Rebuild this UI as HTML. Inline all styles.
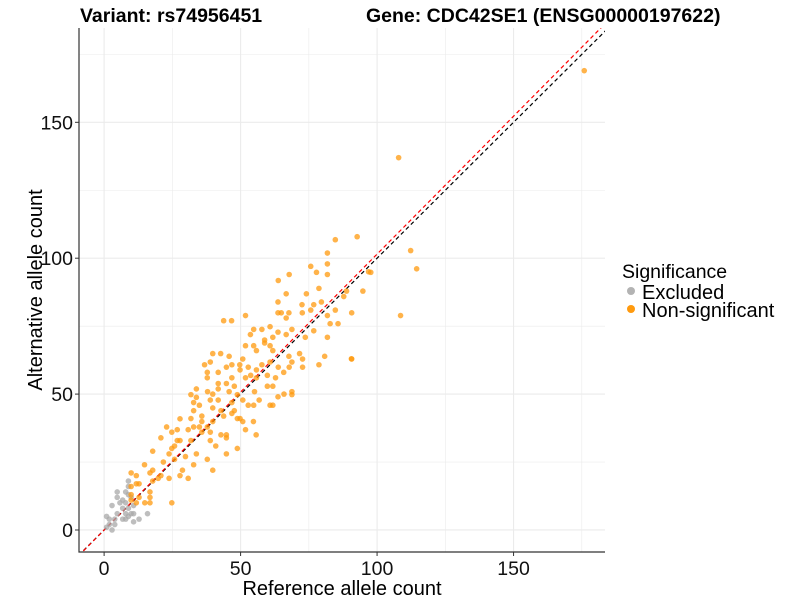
<!DOCTYPE html>
<html><head><meta charset="utf-8"><style>
body{margin:0;background:#fff;}
svg{display:block;font-family:"Liberation Sans",Arial,sans-serif;}
</style></head><body>
<svg id="chart" width="800" height="600" viewBox="0 0 800 600">
<g id="grid"></g>
<g id="lines"></g>
<g id="pts"></g>
<g id="axes"></g>
<text x="80" y="22" font-size="19.5" font-weight="bold">Variant: rs74956451</text>
<text x="366" y="22" font-size="19.5" font-weight="bold">Gene: CDC42SE1 (ENSG00000197622)</text>
<text x="342" y="595" font-size="20" text-anchor="middle">Reference allele count</text>
<text transform="translate(42,290) rotate(-90)" font-size="20" text-anchor="middle">Alternative allele count</text>
<g>
<text x="622" y="278" font-size="19.5">Significance</text>
<circle cx="631" cy="291" r="4" fill="#b3b3b3"/>
<text x="642" y="299" font-size="20">Excluded</text>
<circle cx="631" cy="309" r="4" fill="#ff9a0e"/>
<text x="642" y="317" font-size="20">Non-significant</text>
</g>
</svg>
<script>
const xTicks=[0,50,100,150];
const yTicks=[0,50,100,150];
const redSlope=[1.015];
const greyX=[8.9,8.9,4.8,7.9,8.9,4.8,6.8,9.9,2.9,5.8,7.9,6.8,10.8,8.9,4.8,7.9,9.9,10.8,15.9,0.9,3.9,6.8,7.9,12.8,10.8,1.9,0.9,2.9,3.9,1.9,8.9];
const greyY=[18,16,14,14,13,12,11,12,9,10,10,8,9,8,6,6,6,6,6,5,4,4,4,4,3,2,1,0,2,4,5];
const orX=[84.7,92.7,81.8,75.7,81.8,77.8,81.8,67.8,63.8,97.7,78.7,66.7,74.1,94.8,87.8,88.8,72.5,63.7,76.8,79.6,84.7,90.7,63.7,64.9,67.7,72.6,75.7,81.8,51.8,43.8,46.7,66.7,82.8,85.7,76.8,60.8,54.8,57.8,68.8,63.7,53.6,58.8,61.8,66.7,73.7,81.8,51.8,54.8,58.8,60.8,61.8,55.8,39.8,42.7,45.8,50.8,67.7,71.6,80.8,90.7,78.7,72.7,36.8,38.9,41.8,44.8,46.8,49.7,49.8,52.8,55.8,57.8,60.8,63.8,68.8,67.8,72.7,37.8,37.8,41.8,44.8,46.8,47.7,51.8,53.7,55.8,59.8,62.8,65.8,61.8,59.8,33.8,31.8,37.9,39.8,41.8,45.8,48.8,55.1,63.7,65.9,68.8,68.8,33.8,38.9,41.8,46.8,50.8,52.8,54.8,56.8,60.8,61.8,32.8,34.9,32.8,35.8,39.8,42.8,47.7,46.8,31.8,35.8,39.8,43.8,48.8,49.8,50.8,54.7,22.9,27.8,32.8,34.9,37.8,24.8,26.8,30.8,35.8,38.9,42.8,44.8,51.8,55.7,20.8,26.8,27.8,31.8,38.9,44.8,25.8,24.8,40.9,48.8,17.8,23.8,29.8,33.8,44.8,21.7,25.8,37.8,14.8,32.8,17.8,28.7,39.8,9.9,16.8,20.8,23.8,27.8,30.8,11.8,17.8,11.8,9.9,12.8,16.8,9.9,9.9,12.8,14.9,16.8,11.8,24.8,16.8,19.8,107.9,175.9,108.6,112.3,114.5,96.9,90.6];
const orY=[106.8,107.9,101.9,97,97.9,94.8,94,94,91.8,94.8,88.9,86.9,86.9,87.9,85.9,87.9,82.9,83.9,82.9,83.9,80.9,79.9,79.9,79.9,79.9,79.9,80.9,78.9,78.9,77,77,78,75.9,75.9,73.3,74.8,73.8,73.8,73.8,72.8,71.9,69.9,70.9,71.9,70.9,70.9,67.8,67.8,68.8,67.8,66,66,64.9,64.9,63.9,62.9,63.9,64.9,63.9,62.9,60.8,62.9,60.8,61.8,58,59.9,60.8,60.8,58.9,59.9,58.9,60.8,61.8,59.9,61.8,59.9,59.9,58,56,53.9,53.9,56,52.9,56,56.9,56,56.9,56,58,52.9,52.9,51.9,49.8,50.9,50,51.9,50.9,49.8,50.9,49,50,50.9,49.8,48.8,47.8,47.8,46.9,47.8,45.9,45.9,47.8,45.9,45.9,46.9,45.9,43.9,41.9,44.9,43.9,43.9,42.9,41,39.9,39.9,41.9,41,41,39.9,39.9,37.9,40.9,37.9,37.9,37.9,36,36.9,36.9,36,36,35,35,36.9,35,33.9,32.9,32.9,32.9,32.9,33.9,30.9,30,30.9,30,29,28,27,28,28,25,26,26,24,24,22,22,22,21,21,20,19,20,19,20,18,17,16,17,14,13,11,12,10,10,10,10,12,19,137,169,78.9,102.8,96.1,95,63];
const X0=-9.2,X1=183.5,Y0=-8.1,Y1=184.7;
const L=79,R=605,T=28,B=552;
const sx=v=>L+(v-X0)/(X1-X0)*(R-L);
const sy=v=>B-(v-Y0)/(Y1-Y0)*(B-T);
const NS='http://www.w3.org/2000/svg';
function mk(tag,attrs,parent){const e=document.createElementNS(NS,tag);for(const k in attrs)e.setAttribute(k,attrs[k]);parent.appendChild(e);return e;}
const grid=document.getElementById('grid'),axes=document.getElementById('axes'),pts=document.getElementById('pts'),lines=document.getElementById('lines');
for(let i=0;i<xTicks.length;i++){
  const v=xTicks[i];
  [v,v+25].forEach((g,j)=>{if(g<X1){const ln=mk('line',{x1:sx(g),x2:sx(g),y1:T,y2:B,stroke:'#ebebeb','stroke-width':j?0.6:1.1},grid);
  
  }});
  const tk=mk('line',{x1:sx(v),x2:sx(v),y1:B,y2:B+4,stroke:'#333'},axes);
  
  
  const t=mk('text',{x:sx(v),y:B+23,'font-size':19.5,'text-anchor':'middle',fill:'#111'},axes);
  
  
  t.textContent=v;
}
for(let i=0;i<yTicks.length;i++){
  const v=yTicks[i];
  [v,v+25].forEach((g,j)=>{if(g<Y1){const ln=mk('line',{x1:L,x2:R,y1:sy(g),y2:sy(g),stroke:'#ebebeb','stroke-width':j?0.6:1.1},grid);
  
  }});
  const tk=mk('line',{x1:L-4,x2:L,y1:sy(v),y2:sy(v),stroke:'#333'},axes);
  
  
  const t=mk('text',{x:L-6,y:sy(v)+7,'font-size':19.5,'text-anchor':'end',fill:'#111'},axes);
  
  
  t.textContent=v;
}
const ax=mk('path',{d:`M${L},${T}V${B}H${R}`,fill:'none',stroke:'#333','stroke-width':1.2},axes);


const xa=X0-2,xb=X1+5;
const bl=mk('line',{x1:sx(xa),y1:sy(xa),x2:sx(xb),y2:sy(xb),stroke:'#000','stroke-dasharray':'4,3','stroke-width':1.2},lines);


const rl=mk('line',{x1:sx(xa),y1:sy(xa*redSlope[0]),x2:sx(xb),y2:sy(xb*redSlope[0]),stroke:'#f00','stroke-dasharray':'4,3','stroke-width':1.2},lines);


const clip=mk('clipPath',{id:'cp'},document.getElementById('chart'));
mk('rect',{x:L,y:T,width:R-L,height:B-T},clip);
lines.setAttribute('clip-path','url(#cp)');
for(let i=0;i<greyX.length;i++){
  const c=mk('circle',{cx:sx(greyX[i]),cy:sy(greyY[i]),r:2.8,fill:'#a8a8a8','fill-opacity':0.75},pts);
  
  
}
for(let i=0;i<orX.length;i++){
  const c=mk('circle',{cx:sx(orX[i]),cy:sy(orY[i]),r:2.8,fill:'#ff9a0e','fill-opacity':0.75},pts);
  
  
}
</script>
</body></html>
